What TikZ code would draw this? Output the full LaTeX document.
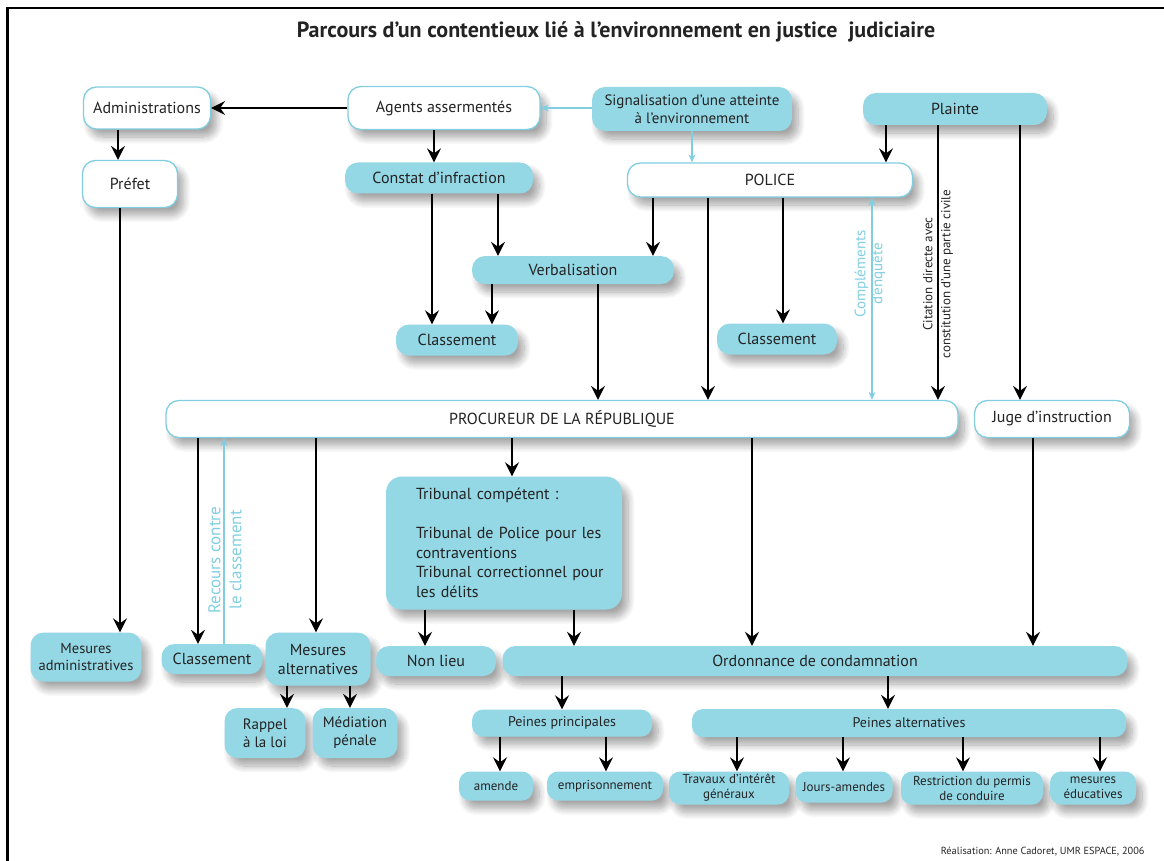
\documentclass[tikz,border=0pt]{standalone}
\usepackage{fontspec}
\setmainfont{PT Sans}
\usepackage{tikz}
\usetikzlibrary{positioning, arrows.meta, shadows, shadows.blur}
\definecolor{JusBlue}{RGB}{148,216,230}
\definecolor{JusEdge}{RGB}{128,206,224}
\definecolor{JusText}{RGB}{35,35,35}
\tikzset{
  box/.style={rounded corners=13pt, inner sep=2pt, align=center, text=JusText,
    font=\fontsize{16}{19}\selectfont,
    blur shadow={shadow xshift=6pt, shadow yshift=-8pt, shadow opacity=35,
      shadow blur radius=7pt, shadow blur steps=10}},
  wbox/.style={box, draw=JusEdge, line width=1.3pt, fill=white},
  bbox/.style={box, fill=JusBlue},
  smallbox/.style={bbox, rounded corners=11pt, font=\fontsize{14}{16}\selectfont},
  leafbox/.style={bbox, rounded corners=11pt, font=\fontsize{13}{15}\selectfont},
  flow/.style={-{Stealth[length=14pt, width=14pt, inset=5pt]}, line width=1.5pt},
  hint/.style={-{Stealth[length=8pt, width=7pt]}, draw=JusEdge, fill=JusEdge, line width=1.1pt},
  twohint/.style={{Stealth[length=8pt, width=7pt]}-{Stealth[length=8pt, width=7pt]}, draw=JusEdge,
    fill=JusEdge, line width=1.1pt},
  vlab/.style={rotate=90, align=center, inner sep=0pt},
}

\begin{document}
\begin{tikzpicture}[x=1pt, y=-1pt]
  \useasboundingbox (0,0) rectangle (1164,861);
  % frame
  \draw[line width=2.5pt] (7.5,861) -- (7.5,8) -- (1164,8);

  \node[font=\bfseries\fontsize{22}{26}\selectfont, text=JusText] (title) at (616,32)
    {Parcours d'un contentieux lié à l'environnement en justice \ judiciaire};

  % first levels
  \node[wbox, minimum width=127pt, minimum height=42pt] (admin) at (147,108) {Administrations};
  \node[wbox, minimum width=95pt, minimum height=47pt] (prefet) at (130,184) {Préfet};
  \node[wbox, minimum width=192pt, minimum height=43pt] (agents) at (444,108) {Agents assermentés};
  \node[bbox, minimum width=200pt, minimum height=44pt, font=\fontsize{15}{18}\selectfont] (signal) at (692,109)
    {Signalisation d'une atteinte\\à l'environnement};
  \node[bbox, minimum width=184pt, minimum height=32pt] (plainte) at (955,109) {Plainte};
  \node[bbox, minimum width=188pt, minimum height=31pt] (constat) at (439,178) {Constat d'infraction};
  \node[wbox, minimum width=285pt, minimum height=34pt] (police) at (770,180) {POLICE};
  \node[bbox, minimum width=202pt, minimum height=28pt] (verbal) at (573,270) {Verbalisation};
  \node[bbox, minimum width=122pt, minimum height=31pt] (classA) at (457,340) {Classement};
  \node[bbox, minimum width=120pt, minimum height=31pt] (classB) at (777,339) {Classement};
  \node[wbox, minimum width=792pt, minimum height=37pt] (procureur) at (562,419) {PROCUREUR DE LA RÉPUBLIQUE};
  \node[wbox, minimum width=155pt, minimum height=37pt] (juge) at (1052,419) {Juge d'instruction};

  % tribunal and outcomes
  \node[bbox, rounded corners=16pt, minimum width=236pt, minimum height=133pt, text width=176pt,
    inner xsep=30pt, align=left, font=\fontsize{16}{19.5}\selectfont] (tribunal) at (504,543)
    {Tribunal compétent :\\[19.5pt]\mbox{Tribunal de Police pour les}\\contraventions\\
     \mbox{Tribunal correctionnel pour}\\les délits};
  \node[bbox, minimum width=111pt, minimum height=49pt, font=\fontsize{14.5}{17}\selectfont] (mesadm) at (86,657)
    {Mesures\\administratives};
  \node[bbox, minimum width=101pt, minimum height=30pt] (classC) at (212,659) {Classement};
  \node[bbox, minimum width=105pt, minimum height=53pt] (mesalt) at (318,659) {Mesures\\alternatives};
  \node[bbox, minimum width=120pt, minimum height=30pt] (nonlieu) at (436,661) {Non lieu};
  \node[bbox, minimum width=625pt, minimum height=30pt] (ordon) at (815,661) {Ordonnance de condamnation};
  \node[bbox, minimum width=81pt, minimum height=50pt, font=\fontsize{15}{18}\selectfont] (rappel) at (265,733)
    {Rappel\\à la loi};
  \node[bbox, minimum width=85pt, minimum height=50pt, font=\fontsize{15}{18}\selectfont] (mediation) at (355,733)
    {Médiation\\pénale};
  \node[smallbox, minimum width=180pt, minimum height=27pt] (pprinc) at (562,723) {Peines principales};
  \node[smallbox, minimum width=434pt, minimum height=28pt] (palt) at (909,723) {Peines alternatives};
  \node[leafbox, minimum width=74pt, minimum height=29pt] (amende) at (496,786) {amende};
  \node[leafbox, minimum width=116pt, minimum height=29pt] (empr) at (605,786) {emprisonnement};
  \node[leafbox, minimum width=120pt, minimum height=33pt] (tig) at (729,788) {Travaux d'intérêt\\généraux};
  \node[leafbox, minimum width=97pt, minimum height=31pt] (jours) at (844,787) {Jours-amendes};
  \node[leafbox, minimum width=142pt, minimum height=33pt] (restr) at (972,788) {Restriction du permis\\de conduire};
  \node[leafbox, minimum width=86pt, minimum height=33pt] (educ) at (1093,788) {mesures\\éducatives};

  \node[anchor=east, text=JusText, font=\fontsize{10.3}{12}\selectfont] (credit) at (1148,852)
    {Réalisation: Anne Cadoret, UMR ESPACE, 2006};

  % black connectors
  \draw[flow] (agents.west) -- (admin.east);
  \foreach \x/\a/\b in {118/admin/prefet, 120/prefet/mesadm, 434/agents/constat, 886/plainte/police,
      938/plainte/procureur, 1020/plainte/juge, 432/constat/classA, 498/constat/verbal,
      492/verbal/classA, 598/verbal/procureur, 653/police/verbal, 708/police/procureur,
      783/police/classB, 198/procureur/classC, 316/procureur/mesalt, 512/procureur/tribunal,
      752/procureur/ordon, 1033/juge/ordon, 425/tribunal/nonlieu, 574/tribunal/ordon,
      287/mesalt/rappel, 350/mesalt/mediation, 562/ordon/pprinc, 888/ordon/palt,
      500/pprinc/amende, 606/pprinc/empr, 737/palt/tig, 843/palt/jours, 963/palt/restr, 1100/palt/educ}
    \draw[flow] (\x,0 |- \a.south) -- (\x,0 |- \b.north);

  % light blue connectors
  \draw[hint] (agents.east -| signal.west) -- (agents.east);
  \draw[hint] (692,0 |- signal.south) -- (692,0 |- police.north);
  \draw[twohint] (872,0 |- police.south) -- (872,0 |- procureur.north);
  \draw[hint] (224,0 |- classC.north) -- (224,0 |- procureur.south);

  % rotated labels
  \node[vlab, text=JusText, font=\fontsize{13}{18}\selectfont] (citation) at (938,274)
    {Citation directe avec\\constitution d'une partie civile};
  \node[vlab, text=JusEdge, font=\fontsize{15}{17}\selectfont] (complements) at (870,274)
    {Compléments\\d'enquête};
  \node[vlab, text=JusEdge, font=\fontsize{17}{21}\selectfont] (recours) at (225,560)
    {Recours contre\\le classement};
\end{tikzpicture}
\end{document}
